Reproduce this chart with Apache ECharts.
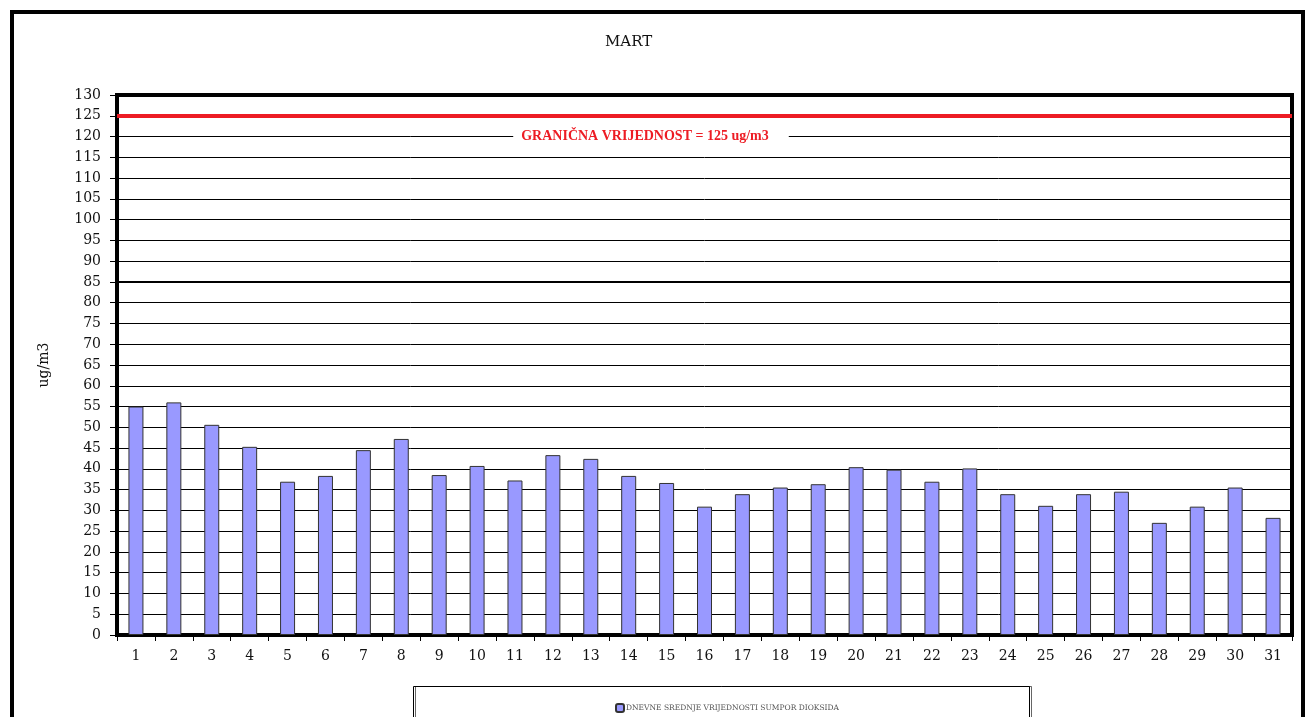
<!DOCTYPE html>
<html>
<head>
<meta charset="utf-8">
<title>MART</title>
<script src="https://cdn.jsdelivr.net/npm/echarts@6/dist/echarts.min.js"></script>
<style>
    html, body { margin: 0; padding: 0; background: #fff; }
    #chart { width: 1309px; height: 717px; }
</style>
</head>
<body>
<div id="chart"></div>
<script>
// ------------------------------------------------------------------------
// Data (dnevne srednje vrijednosti SO2, mart)
// ------------------------------------------------------------------------
var days = ['1','2','3','4','5','6','7','8','9','10','11','12','13','14','15','16',
            '17','18','19','20','21','22','23','24','25','26','27','28','29','30','31'];
var so2Values = [55.0, 56.0, 50.6, 45.3, 36.9, 38.3, 44.5, 47.2, 38.5, 40.7, 37.2,
                 43.3, 42.4, 38.3, 36.6, 30.9, 33.9, 35.5, 36.3, 40.4, 39.8, 36.9,
                 40.1, 33.9, 31.1, 33.9, 34.5, 27.0, 30.9, 35.5, 28.2];
var limitValue = 125;
var emphLine = 85;
var yMin = 0, yMax = 130, yStep = 5;

var seriesName = 'DNEVNE SREDNJE VRIJEDNOSTI SUMPOR DIOKSIDA';
var limitLabel = 'GRANIČNA VRIJEDNOST = 125 ug/m3';

var serif = '"DejaVu Serif", "Liberation Serif", serif';

var chart = echarts.init(document.getElementById('chart'));

var option = {
    animation: false,
    title: {
        text: 'MART',
        left: 600, top: 30,
        textStyle: { fontFamily: serif, fontSize: 15, fontWeight: 'normal', color: '#111' }
    },
    legend: {
        data: [seriesName],
        left: 610, top: 698,
        itemWidth: 8, itemHeight: 8, itemGap: 2,
        textStyle: { fontFamily: serif, fontSize: 7.5, color: '#555', padding: [0, 0, 0, -3] }
    },
    grid: {
        left: 117, right: 17, top: 95, bottom: 82,
        show: true, borderColor: '#000', borderWidth: 4
    },
    xAxis: {
        type: 'category',
        data: days,
        boundaryGap: true,
        axisLine: { show: true, lineStyle: { color: '#000', width: 3 } },
        axisTick: { show: true, length: 6, lineStyle: { color: '#000', width: 1 } },
        axisLabel: { fontFamily: serif, fontSize: 14, color: '#111', margin: 14 },
        splitLine: { show: false }
    },
    yAxis: {
        type: 'value',
        min: yMin, max: yMax, interval: yStep,
        name: 'ug/m3',
        nameLocation: 'middle',
        nameRotate: 90,
        nameGap: 66,
        nameTextStyle: { fontFamily: serif, fontSize: 14, color: '#111' },
        axisLine: { show: true, lineStyle: { color: '#000', width: 4 } },
        axisTick: { show: true, length: 7, lineStyle: { color: '#000', width: 1 } },
        axisLabel: { fontFamily: serif, fontSize: 14, color: '#111', margin: 16 },
        splitLine: { show: true, lineStyle: { color: '#000', width: 1 } }
    },
    series: [{
        name: seriesName,
        type: 'bar',
        data: so2Values,
        barWidth: 15,
        itemStyle: { color: '#9999ff', borderColor: '#333', borderWidth: 1 },
        markLine: {
            silent: true,
            symbol: 'none',
            label: { show: false },
            data: [
                { yAxis: limitValue, lineStyle: { color: '#ed1c24', width: 4, type: 'solid' } },
                { yAxis: emphLine, lineStyle: { color: '#000', width: 2, type: 'solid' } }
            ]
        }
    }]
};
chart.setOption(option);

// labela granicne vrijednosti (na liniji 120, s bijelom pozadinom)
var labelY = chart.convertToPixel({ yAxisIndex: 0 }, limitValue - yStep);
chart.setOption({
    graphic: [
        {
            type: 'rect',
            silent: true,
            shape: { x: 12, y: 12, width: 1291, height: 760 },
            style: { fill: 'none', stroke: '#000', lineWidth: 4 }
        },
        {
            type: 'rect',
            silent: true,
            shape: { x: 413.5, y: 686.5, width: 616, height: 60 },
            style: { fill: 'none', stroke: '#000', lineWidth: 1, shadowColor: 'rgba(0,0,0,0.6)', shadowOffsetX: 2, shadowOffsetY: 0 }
        },
        {
            type: 'text',
            silent: true,
            z: 100,
            x: 651, y: labelY,
            style: {
                text: limitLabel,
                align: 'center', verticalAlign: 'middle',
                fill: '#ed1c24',
                font: 'bold 14px "Liberation Serif", serif',
                backgroundColor: '#fff',
                padding: [2, 20, 2, 8]
            }
        }
    ]
});
</script>
</body>
</html>
